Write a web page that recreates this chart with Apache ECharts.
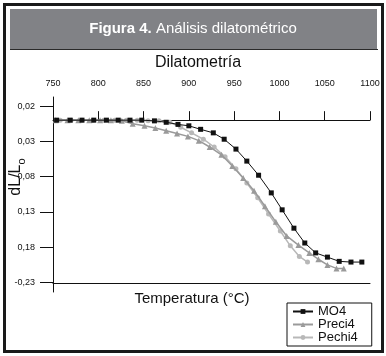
<!DOCTYPE html>
<html>
<head>
<meta charset="utf-8">
<script src="https://cdn.jsdelivr.net/npm/echarts@6/dist/echarts.min.js"></script>
<style>
    html, body { margin: 0; padding: 0; background: #fff; }
    #box { width: 386px; height: 356px; }
</style>
</head>
<body>
<div id="box"></div>
<script>
// datos: temperatura (ºC) y dL/Lo
var mo4Temp = [754, 769, 782, 795, 809, 822, 835, 848, 862, 875, 888, 900, 913, 927, 939, 952, 964, 977, 991, 1003, 1016, 1028, 1040, 1053, 1066, 1079, 1091];
var mo4Val = [0.000, 0.000, 0.000, 0.000, 0.000, 0.000, 0.000, 0.000, -0.001, -0.003, -0.006, -0.008, -0.013, -0.018, -0.027, -0.041, -0.058, -0.078, -0.103, -0.127, -0.153, -0.174, -0.188, -0.194, -0.200, -0.201, -0.201];

var preciTemp = [753, 766, 778, 790, 802, 814, 826, 838, 851, 863, 875, 887, 899, 911, 923, 936, 948, 960, 972, 984, 996, 1008, 1021, 1033, 1043, 1053, 1063, 1071];
var preciVal = [0.000, 0.000, 0.000, 0.000, 0.000, 0.000, -0.001, -0.005, -0.008, -0.011, -0.015, -0.019, -0.023, -0.029, -0.038, -0.049, -0.065, -0.082, -0.100, -0.122, -0.144, -0.164, -0.177, -0.188, -0.197, -0.205, -0.210, -0.210];

var pechiTemp = [758, 770, 782, 794, 806, 818, 831, 843, 855, 867, 879, 891, 903, 916, 928, 940, 952, 964, 976, 988, 1001, 1012, 1022, 1031];
var pechiVal = [0.000, 0.000, 0.000, 0.000, 0.000, 0.000, 0.000, 0.000, -0.001, -0.001, -0.003, -0.010, -0.018, -0.027, -0.038, -0.052, -0.069, -0.089, -0.110, -0.133, -0.157, -0.178, -0.193, -0.201];

var seriesNames = ['MO4', 'Preci4', 'Pechi4'];

// eje y: valores y etiquetas tal como aparecen
var yTickValues = [0.02, -0.03, -0.08, -0.13, -0.18, -0.23];
var yTickLabels = ['0,02', '0,03', '0,08', '0,13', '0,18', '-0,23'];

var FONT = 'Liberation Sans';

function pairs(t, v) {
    var out = [];
    for (var i = 0; i < t.length; i++) {
        out.push([t[i], v[i]]);
    }
    return out;
}

function yLabel(val) {
    for (var i = 0; i < yTickValues.length; i++) {
        if (Math.abs(yTickValues[i] - val) < 1e-6) return yTickLabels[i];
    }
    return '';
}

var myChart = echarts.init(document.getElementById('box'));
var option = {
    animation: false,
    backgroundColor: '#fff',
    textStyle: {fontFamily: FONT},
    grid: {left: 53, right: 16, top: 97, bottom: 64, outerBoundsMode: 'none'},
    legend: {
        data: seriesNames,
        orient: 'vertical',
        left: 287,
        top: 303,
        backgroundColor: '#fff',
        borderColor: '#111',
        borderWidth: 1,
        borderRadius: 0,
        padding: [2, 14, 2, 5],
        itemWidth: 20,
        itemHeight: 6,
        itemGap: 0,
        textStyle: {fontSize: 13, color: '#111', fontFamily: FONT, lineHeight: 13}
    },
    xAxis: [
        {
            type: 'value',
            position: 'top',
            offset: -9,
            min: 750,
            max: 1100,
            interval: 50,
            axisLine: {show: true, lineStyle: {color: '#111', width: 1}},
            axisTick: {show: true, inside: false, length: 9, lineStyle: {color: '#111'}},
            axisLabel: {fontSize: 9, color: '#111', margin: 18, fontFamily: FONT, formatter: function (v) { return String(v); }},
            splitLine: {show: false}
        },
        {
            type: 'value',
            position: 'bottom',
            offset: -9,
            min: 750,
            max: 1100,
            axisLine: {show: true, lineStyle: {color: '#111', width: 1}},
            axisTick: {show: false},
            axisLabel: {show: false},
            splitLine: {show: false}
        }
    ],
    yAxis: {
        type: 'value',
        min: -0.2434,
        max: 0.0328,
        axisLine: {show: true, lineStyle: {color: '#111', width: 1}},
        axisTick: {show: true, inside: false, length: 13, customValues: yTickValues, lineStyle: {color: '#111'}},
        axisLabel: {fontSize: 9, color: '#111', margin: 18, fontFamily: FONT, customValues: yTickValues, formatter: yLabel},
        splitLine: {show: false}
    },
    series: [
        {
            name: seriesNames[0],
            type: 'line',
            data: pairs(mo4Temp, mo4Val),
            symbol: 'rect',
            symbolSize: 5,
            z: 4,
            lineStyle: {color: '#111', width: 1},
            itemStyle: {color: '#111'}
        },
        {
            name: seriesNames[1],
            type: 'line',
            data: pairs(preciTemp, preciVal),
            symbol: 'triangle',
            symbolSize: 6,
            z: 3,
            lineStyle: {color: '#9a9a9a', width: 1.5},
            itemStyle: {color: '#9a9a9a'}
        },
        {
            name: seriesNames[2],
            type: 'line',
            data: pairs(pechiTemp, pechiVal),
            symbol: 'circle',
            symbolSize: 5,
            z: 2,
            lineStyle: {color: '#b8b8b8', width: 1.5},
            itemStyle: {color: '#b8b8b8'}
        }
    ],
    graphic: [
        // marco
        {type: 'rect', shape: {x: 4.5, y: 4.5, width: 378, height: 347}, style: {fill: 'none', stroke: '#1a1a1a', lineWidth: 3}},
        // cabecera gris
        {type: 'rect', shape: {x: 10, y: 9, width: 367, height: 40}, style: {fill: '#818286'}},
        {type: 'line', shape: {x1: 10, y1: 49.5, x2: 378, y2: 49.5}, style: {stroke: '#2a2a2a', lineWidth: 1}},
        {
            type: 'text', x: 193, y: 29,
            style: {
                text: '{b|Figura 4.}{n| Análisis dilatométrico}',
                align: 'center', verticalAlign: 'middle',
                rich: {
                    b: {fontSize: 15, fontWeight: 'bold', fontFamily: FONT, fill: '#fff'},
                    n: {fontSize: 15, fontFamily: FONT, fill: '#fff'}
                }
            }
        },
        {
            type: 'text', x: 198, y: 63,
            style: {text: 'Dilatometría', fontSize: 16, fontFamily: FONT, fill: '#111', align: 'center', verticalAlign: 'middle'}
        },
        {
            type: 'text', x: 192, y: 299,
            style: {text: 'Temperatura (°C)', fontSize: 15, fontFamily: FONT, fill: '#111', align: 'center', verticalAlign: 'middle'}
        },
        {
            type: 'text', x: 16, y: 177, rotation: Math.PI / 2,
            style: {
                text: '{m|dL/L}{s|o}',
                align: 'center', verticalAlign: 'middle',
                rich: {
                    m: {fontSize: 16, lineHeight: 22, fontFamily: FONT, fill: '#111'},
                    s: {fontSize: 11, lineHeight: 11, verticalAlign: 'bottom', fontFamily: FONT, fill: '#111'}
                }
            }
        }
    ]
};
myChart.setOption(option);

window.addEventListener('resize', function () {
    myChart.resize();
});
</script>
</body>
</html>
